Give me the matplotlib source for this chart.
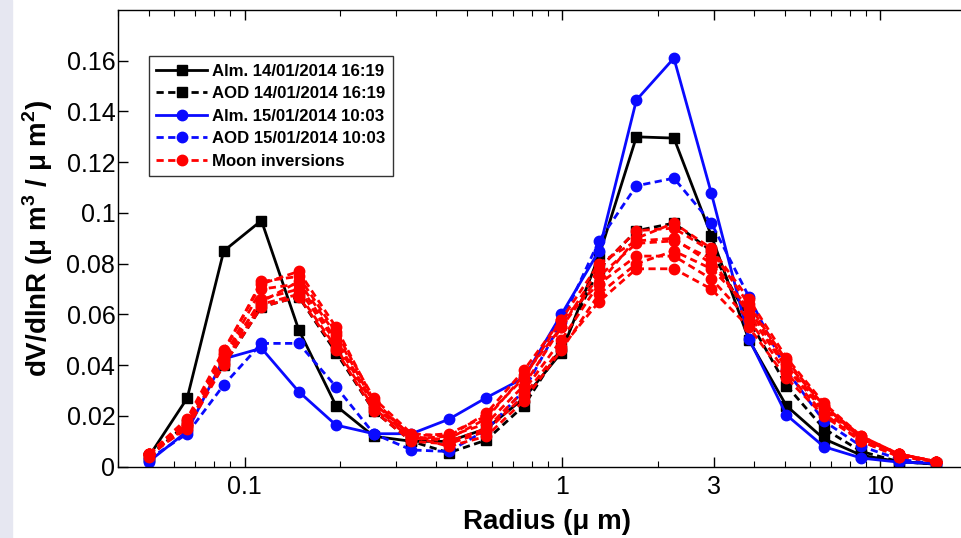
import numpy as np
import matplotlib
matplotlib.use('Agg')
import matplotlib.pyplot as plt
from matplotlib.ticker import FixedLocator, FuncFormatter, LogLocator, NullFormatter
from matplotlib.patches import Rectangle

plt.rcParams['font.family'] = ['Liberation Sans', 'DejaVu Sans']
plt.rcParams['mathtext.fontset'] = 'custom'
plt.rcParams['mathtext.rm'] = 'Liberation Sans'
plt.rcParams['mathtext.bf'] = 'Liberation Sans:bold'

# radius bins (um)
radius = [0.050, 0.066, 0.086, 0.113, 0.148, 0.194, 0.255, 0.335, 0.439, 0.576, 0.756,
          0.992, 1.302, 1.708, 2.241, 2.940, 3.857, 5.061, 6.641, 8.713, 11.432, 15.000]

alm_14 = [0.004, 0.027, 0.085, 0.097, 0.054, 0.024, 0.012, 0.010, 0.010, 0.015, 0.027,
          0.045, 0.083, 0.130, 0.1295, 0.091, 0.050, 0.024, 0.011, 0.0045, 0.002, 0.001]
aod_14 = [0.004, 0.017, 0.040, 0.063, 0.067, 0.045, 0.022, 0.010, 0.0055, 0.0105, 0.024,
          0.047, 0.078, 0.093, 0.096, 0.085, 0.058, 0.032, 0.015, 0.006, 0.002, 0.001]
alm_15 = [0.002, 0.014, 0.0425, 0.0467, 0.0296, 0.0164, 0.013, 0.013, 0.0187, 0.0272, 0.035,
          0.060, 0.085, 0.1445, 0.161, 0.1077, 0.0505, 0.0204, 0.0079, 0.0034, 0.0018, 0.0013]
aod_15 = [0.003, 0.013, 0.0322, 0.0486, 0.0486, 0.0315, 0.013, 0.0066, 0.006, 0.0145, 0.030,
          0.057, 0.089, 0.1107, 0.1137, 0.096, 0.067, 0.038, 0.018, 0.008, 0.003, 0.001]

moon = [
    [0.005, 0.019, 0.046, 0.072, 0.077, 0.055, 0.026, 0.012, 0.010, 0.015, 0.030,
     0.050, 0.072, 0.090, 0.096, 0.086, 0.066, 0.043, 0.025, 0.012, 0.005, 0.002],
    [0.005, 0.018, 0.045, 0.073, 0.075, 0.053, 0.027, 0.013, 0.012, 0.017, 0.032,
     0.055, 0.078, 0.093, 0.094, 0.085, 0.064, 0.041, 0.024, 0.011, 0.005, 0.002],
    [0.005, 0.017, 0.043, 0.070, 0.072, 0.050, 0.025, 0.012, 0.013, 0.020, 0.035,
     0.058, 0.080, 0.089, 0.090, 0.080, 0.062, 0.040, 0.023, 0.011, 0.005, 0.002],
    [0.005, 0.016, 0.042, 0.066, 0.070, 0.049, 0.024, 0.011, 0.011, 0.019, 0.036,
     0.055, 0.075, 0.088, 0.089, 0.082, 0.060, 0.039, 0.022, 0.011, 0.005, 0.002],
    [0.004, 0.016, 0.041, 0.064, 0.068, 0.047, 0.023, 0.011, 0.012, 0.021, 0.038,
     0.058, 0.072, 0.083, 0.083, 0.074, 0.058, 0.037, 0.021, 0.010, 0.004, 0.002],
    [0.005, 0.015, 0.040, 0.063, 0.067, 0.046, 0.022, 0.010, 0.009, 0.014, 0.028,
     0.047, 0.065, 0.078, 0.078, 0.070, 0.055, 0.035, 0.020, 0.010, 0.004, 0.002],
    [0.005, 0.017, 0.044, 0.065, 0.073, 0.052, 0.025, 0.012, 0.008, 0.012, 0.026,
     0.046, 0.068, 0.080, 0.085, 0.078, 0.063, 0.042, 0.024, 0.012, 0.005, 0.002],
]

fig = plt.figure(figsize=(9.62, 5.38), dpi=100)
fig.patches.append(Rectangle((0, 0), 12 / 962, 1, transform=fig.transFigure,
                             color='#e6e7f1', zorder=0))
ax = fig.add_axes([0.1227, 0.1325, 0.892, 0.849])

lw = 2.0
dash = (0, (2.6, 1.6))
ax.plot(radius, alm_14, color='k', lw=lw, ls='-', marker='s', ms=6.5,
        label='Alm. 14/01/2014 16:19')
ax.plot(radius, aod_14, color='k', lw=lw, ls=dash, marker='s', ms=6.5,
        label='AOD 14/01/2014 16:19')
ax.plot(radius, alm_15, color='#0a0aff', lw=lw, ls='-', marker='o', ms=7.5,
        label='Alm. 15/01/2014 10:03')
ax.plot(radius, aod_15, color='#0a0aff', lw=lw, ls=dash, marker='o', ms=7.5,
        label='AOD 15/01/2014 10:03')
for i, m in enumerate(moon):
    ax.plot(radius, m, color='#ff0000', lw=lw, ls=dash, marker='o', ms=7.5,
            label='Moon inversions' if i == 0 else '_nolegend_')

ax.set_xscale('log')
ax.set_xlim(0.04, 20)
ax.set_ylim(0, 0.18)
ax.xaxis.set_major_locator(FixedLocator([0.1, 1, 3, 10]))
ax.xaxis.set_major_formatter(FuncFormatter(lambda v, p: '%g' % v))
ax.xaxis.set_minor_locator(LogLocator(base=10, subs=np.arange(2, 10)))
ax.xaxis.set_minor_formatter(NullFormatter())
ax.set_yticks(np.arange(0, 0.161, 0.02))
ax.yaxis.set_major_formatter(FuncFormatter(lambda v, p: '%g' % round(v, 2)))

ax.tick_params(which='both', direction='in', top=True, right=True, labelsize=18)
ax.tick_params(which='major', length=7, width=1)
ax.tick_params(which='minor', length=4, width=0.8)
ax.tick_params(axis='x', pad=6)
ax.tick_params(axis='y', pad=2)
for s in ax.spines.values():
    s.set_linewidth(1.0)

ax.set_xlabel('Radius (μ m)', fontsize=20, fontweight='bold', labelpad=7)
ax.set_ylabel(r'dV/dlnR (μ m$^{\mathbf{3}}$ / μ m$^{\mathbf{2}}$)', fontsize=20,
              fontweight='bold', labelpad=8)

leg = ax.legend(loc='upper left', bbox_to_anchor=(0.036, 0.899), borderaxespad=0,
                fancybox=False, edgecolor='#333333', framealpha=1,
                prop={'size': 12.1, 'weight': 'bold'}, handlelength=3.0,
                labelspacing=0.45, borderpad=0.45, handletextpad=0.3)
leg.get_frame().set_linewidth(1.0)

fig.savefig('out.png', dpi=100)
